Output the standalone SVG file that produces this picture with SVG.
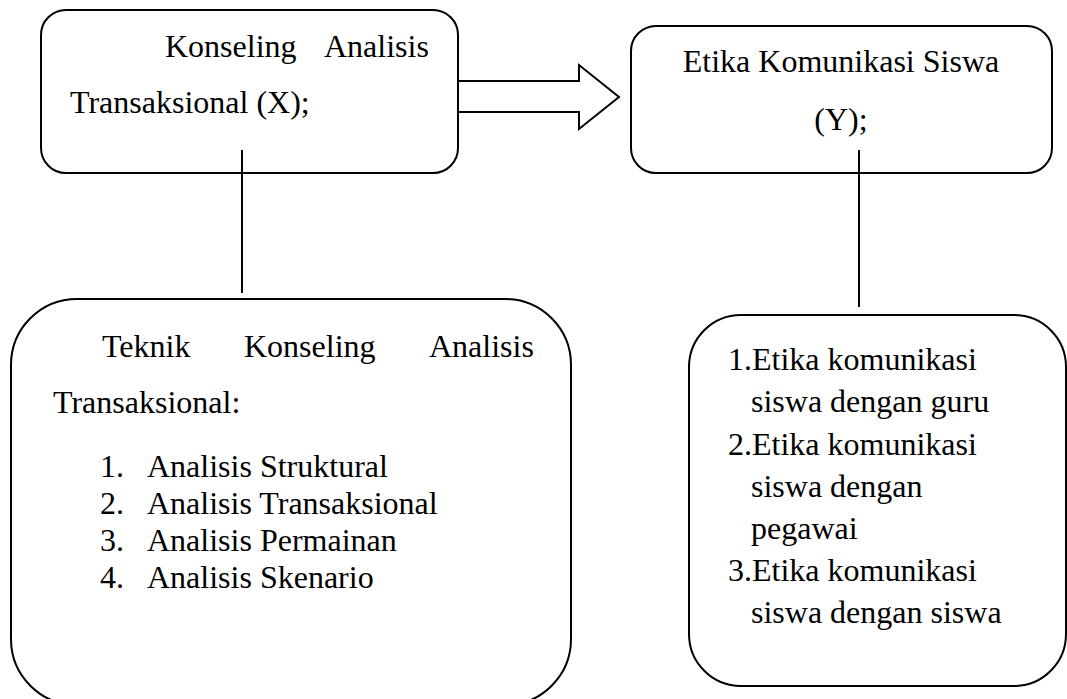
<svg xmlns="http://www.w3.org/2000/svg" width="1067" height="699" viewBox="0 0 1067 699">
  <style>
    .box { fill: #ffffff; stroke: #000000; stroke-width: 2; }
    .conn { fill: none; stroke: #000000; stroke-width: 2; }
    .arrow { fill: #ffffff; stroke: #000000; stroke-width: 2; stroke-linejoin: miter; }
    text { font-family: "Liberation Serif", "Times New Roman", serif; font-size: 32px; fill: #000000; }
  </style>
  <rect x="0" y="0" width="1067" height="699" fill="#ffffff"/>

  <g id="node-x">
    <rect class="box" x="41" y="10" width="417" height="163" rx="25" ry="25"/>
    <text x="165" y="57">Konseling</text>
    <text x="324" y="57">Analisis</text>
    <text x="70" y="113">Transaksional (X);</text>
  </g>

  <g id="node-y">
    <rect class="box" x="631" y="26" width="421" height="147" rx="25" ry="25"/>
    <text x="841" y="72" text-anchor="middle">Etika Komunikasi Siswa</text>
    <text x="841" y="130" text-anchor="middle">(Y);</text>
  </g>

  <g id="node-teknik">
    <rect class="box" x="11" y="299" width="560" height="406" rx="66" ry="66"/>
    <text x="102" y="357">Teknik</text>
    <text x="244" y="357">Konseling</text>
    <text x="429" y="357">Analisis</text>
    <text x="53" y="413">Transaksional:</text>
    <text x="100" y="477">1.</text>
    <text x="147" y="477">Analisis Struktural</text>
    <text x="100" y="514">2.</text>
    <text x="147" y="514">Analisis Transaksional</text>
    <text x="100" y="551">3.</text>
    <text x="147" y="551">Analisis Permainan</text>
    <text x="100" y="588">4.</text>
    <text x="147" y="588">Analisis Skenario</text>
  </g>

  <g id="node-etika">
    <rect class="box" x="689" y="315" width="377" height="371" rx="52" ry="52"/>
    <text x="728" y="370">1.Etika komunikasi</text>
    <text x="751" y="412">siswa dengan guru</text>
    <text x="728" y="455">2.Etika komunikasi</text>
    <text x="751" y="497">siswa dengan</text>
    <text x="751" y="539">pegawai</text>
    <text x="728" y="581">3.Etika komunikasi</text>
    <text x="751" y="623">siswa dengan siswa</text>
  </g>

  <g id="connectors">
    <polygon class="arrow" points="458,81 579,81 579,65 619,97 579,129 579,112 458,112"/>
    <line class="conn" x1="242" y1="150" x2="242" y2="293"/>
    <line class="conn" x1="859" y1="150" x2="859" y2="307"/>
  </g>
</svg>
